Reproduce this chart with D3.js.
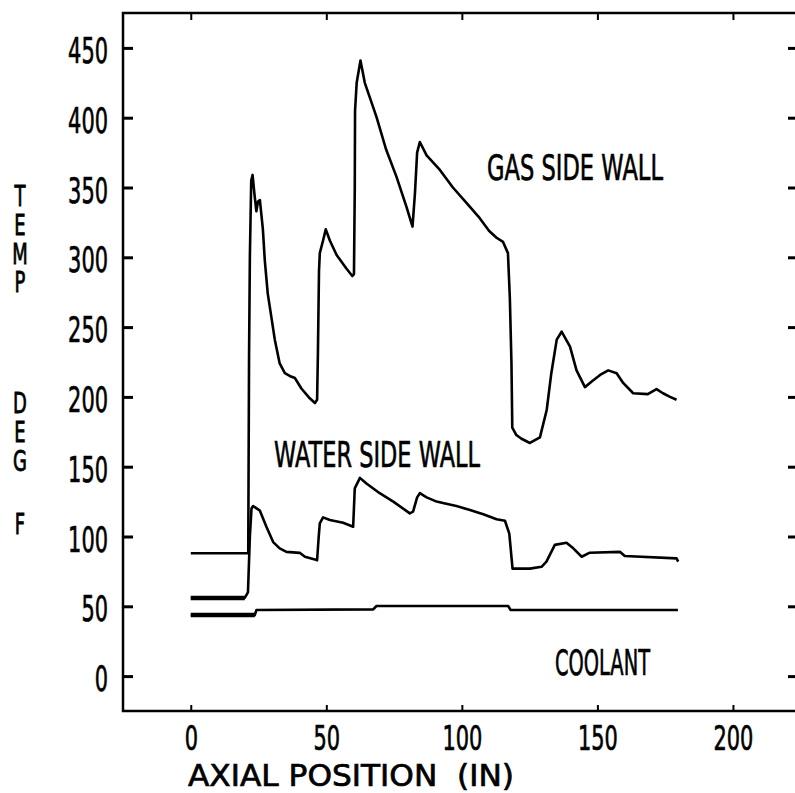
<!DOCTYPE html>
<html>
<head>
<meta charset="utf-8">
<script src="https://cdn.jsdelivr.net/npm/d3@7"></script>
<style>
  body { margin: 0; background: #fff; }
</style>
</head>
<body>
<div class="chart"></div>
<script>
// axial position (in) vs temp (deg F)
var xTicks = [0, 50, 100, 150, 200];
var yTicks = [0, 50, 100, 150, 200, 250, 300, 350, 400, 450];

var gasWall = [[0,88],[21.2,88],[21.5,230],[21.8,300],[22.3,355],[22.8,359],[23.5,345],[24.2,333],[24.8,340],[25.5,341],
  [26.6,320],[27.3,298],[28.4,274],[29.9,255],[31,241],[32.8,224],[34.7,217],[36.5,215],[38.4,213.5],[40.8,206],
  [43.9,199],[45.8,195.6],[46.6,198],[46.9,231],[47.3,290],[47.6,303],[48.8,312],[49.8,320],[51.3,312],[53.8,301.6],
  [57.4,292],[59.6,286.6],[60.2,288],[60.5,350],[60.6,405],[61.2,425],[62.6,441],[64.2,425],[68.5,400.6],[72.1,377],
  [75.9,357.6],[79.6,336],[81.8,322],[82.7,346],[83.5,375],[84.5,382.6],[87,373],[91.9,362.6],[96.7,350],[101.7,339],
  [106.6,328],[110,319],[112.8,314],[115.2,311],[117,303],[117.7,271],[118.3,224],[118.6,178],[120.1,172.7],[122,170],
  [125.1,167],[128.8,171],[131.3,190.6],[133,217],[135,241],[136.8,246.7],[139.9,236],[142.3,219],[145.4,207],[147.9,211],
  [151,215.7],[154,219],[157.1,217],[159.5,210],[163.2,202.6],[168.6,202],[171.8,205.6],[174.2,202.6],[176.8,200],[179.2,198]];

var waterWall = [[0,56],[19.9,56],[21.1,60],[21.8,100],[22.4,120],[23,121.8],[25.5,118.5],[27.9,107],[30.4,96],[32.8,91.5],
  [35.3,89],[40.2,88.3],[42.1,85.5],[45.8,83.6],[46.6,83],[47.2,100],[47.6,109.4],[48.8,113.7],[51.3,111.8],[56.2,109.9],
  [59.9,107],[60.5,134.5],[62.4,142],[64.8,138],[69.7,131],[74.7,125],[80.8,116.6],[82,117.8],[83.5,128],[84.5,131],
  [87,128],[90.7,125],[93,124],[98,121.8],[103,119],[107.9,115.9],[112.8,112.3],[115.9,111.3],[117.5,102],[118.7,77],
  [125.1,77],[129.4,78.3],[131.2,82],[134.3,94],[138.6,95.5],[141.1,91.5],[144.2,85.5],[147.2,88.4],[158.3,89],[160.1,86],
  [179.2,84.3],[179.8,82]];

var coolant = [[0,43.7],[23.6,43.7],[24.2,47.3],[67.3,47.8],[68.5,50.2],[117.1,50.2],[118,47.3],[179.7,47.3]];

var labels = [
  {text: "GAS SIDE WALL", x: 487, y: 180, len: 176},
  {text: "WATER SIDE WALL", x: 274, y: 467, len: 206},
  {text: "COOLANT", x: 555, y: 675, len: 95}
];

// y title is written one letter under the other
var yTitleWords = [
  {text: "TEMP", top: 180},
  {text: "DEG", top: 387},
  {text: "F", top: 508}
];

const width = 795, height = 793;
const font = "DejaVu Sans";

const xScale = d3.scaleLinear().domain([-25, 224]).range([123, 798]);
const yScale = d3.scaleLinear().domain([-25, 475]).range([711, 13]);

var svg = d3.select('.chart')
    .append('svg')
    .attr("width", width)
    .attr("height", height);

svg.append("rect")
    .attr("width", width).attr("height", height)
    .attr("fill", "#fff");

function squish(sel, perChar, size) {
    sel.attr("font-family", font)
        .attr("font-size", size)
        .attr("fill", "#000")
        .attr("stroke", "#000")
        .attr("stroke-width", 0.7)
        .attr("textLength", function() { return this.textContent.length * perChar; })
        .attr("lengthAdjust", "spacingAndGlyphs");
}

// frame
svg.append("rect")
    .attr("x", xScale.range()[0])
    .attr("y", yScale.range()[1])
    .attr("width", xScale.range()[1] - xScale.range()[0])
    .attr("height", yScale.range()[0] - yScale.range()[1])
    .attr("fill", "none")
    .attr("stroke", "#000")
    .attr("stroke-width", 2.5);

var yAxisL = svg.append("g")
    .attr("transform", `translate(${xScale.range()[0]},0)`)
    .call(d3.axisLeft(yScale).tickValues(yTicks).tickSizeInner(-10).tickSizeOuter(0).tickPadding(15));
yAxisL.select(".domain").remove();
yAxisL.selectAll("line").attr("stroke-width", 3);
yAxisL.selectAll("text").attr("dy", 14.5).call(squish, 13.3, 35);

var yAxisR = svg.append("g")
    .attr("transform", `translate(${xScale.range()[1]},0)`)
    .call(d3.axisRight(yScale).tickValues(yTicks).tickSizeInner(-10).tickSizeOuter(0).tickFormat(""));
yAxisR.select(".domain").remove();
yAxisR.selectAll("line").attr("stroke-width", 3);

var xAxisB = svg.append("g")
    .attr("transform", `translate(0,${yScale.range()[0]})`)
    .call(d3.axisBottom(xScale).tickValues(xTicks).tickSizeInner(-6).tickSizeOuter(0));
xAxisB.select(".domain").remove();
xAxisB.selectAll("line").attr("stroke-width", 2);
xAxisB.selectAll("text").attr("y", 39).attr("dy", 0).call(squish, 13.3, 33);

var xAxisT = svg.append("g")
    .attr("transform", `translate(0,${yScale.range()[1]})`)
    .call(d3.axisTop(xScale).tickValues(xTicks).tickSizeInner(-7).tickSizeOuter(0).tickFormat(""));
xAxisT.select(".domain").remove();
xAxisT.selectAll("line").attr("stroke-width", 2);

// curves
const line = d3.line()
    .x(d => xScale(d[0]))
    .y(d => yScale(d[1]));

[gasWall, waterWall, coolant].forEach(s => {
    svg.append("path")
        .datum(s)
        .attr("d", line)
        .attr("fill", "none")
        .attr("stroke", "#000")
        .attr("stroke-width", 2.6)
        .attr("stroke-linejoin", "round");
});

// heavier starting runs, the plotter went over them twice
[waterWall.slice(0, 2), coolant.slice(0, 2)].forEach(s => {
    svg.append("path")
        .datum(s)
        .attr("d", line)
        .attr("fill", "none")
        .attr("stroke", "#000")
        .attr("stroke-width", 4.5);
});

svg.selectAll(".series-label")
    .data(labels)
    .enter()
    .append("text")
    .attr("class", "series-label")
    .attr("x", d => d.x)
    .attr("y", d => d.y)
    .text(d => d.text)
    .call(squish, 13.5, 36)
    .attr("textLength", d => d.len);

// axis titles
svg.append("text")
    .attr("x", 188)
    .attr("y", 785.8)
    .text("AXIAL POSITION  (IN)")
    .attr("xml:space", "preserve")
    .style("white-space", "pre")
    .call(squish, 16.3, 30);

svg.selectAll(".ytitle")
    .data(yTitleWords)
    .enter()
    .append("text")
    .attr("class", "ytitle")
    .attr("transform", d => `translate(20,${d.top}) scale(0.62,1)`)
    .style("writing-mode", "vertical-rl")
    .style("text-orientation", "upright")
    .attr("font-family", font)
    .attr("font-size", 29)
    .attr("letter-spacing", -5)
    .attr("fill", "#000")
    .attr("stroke", "#000")
    .attr("stroke-width", 0.9)
    .text(d => d.text);
</script>
</body>
</html>
